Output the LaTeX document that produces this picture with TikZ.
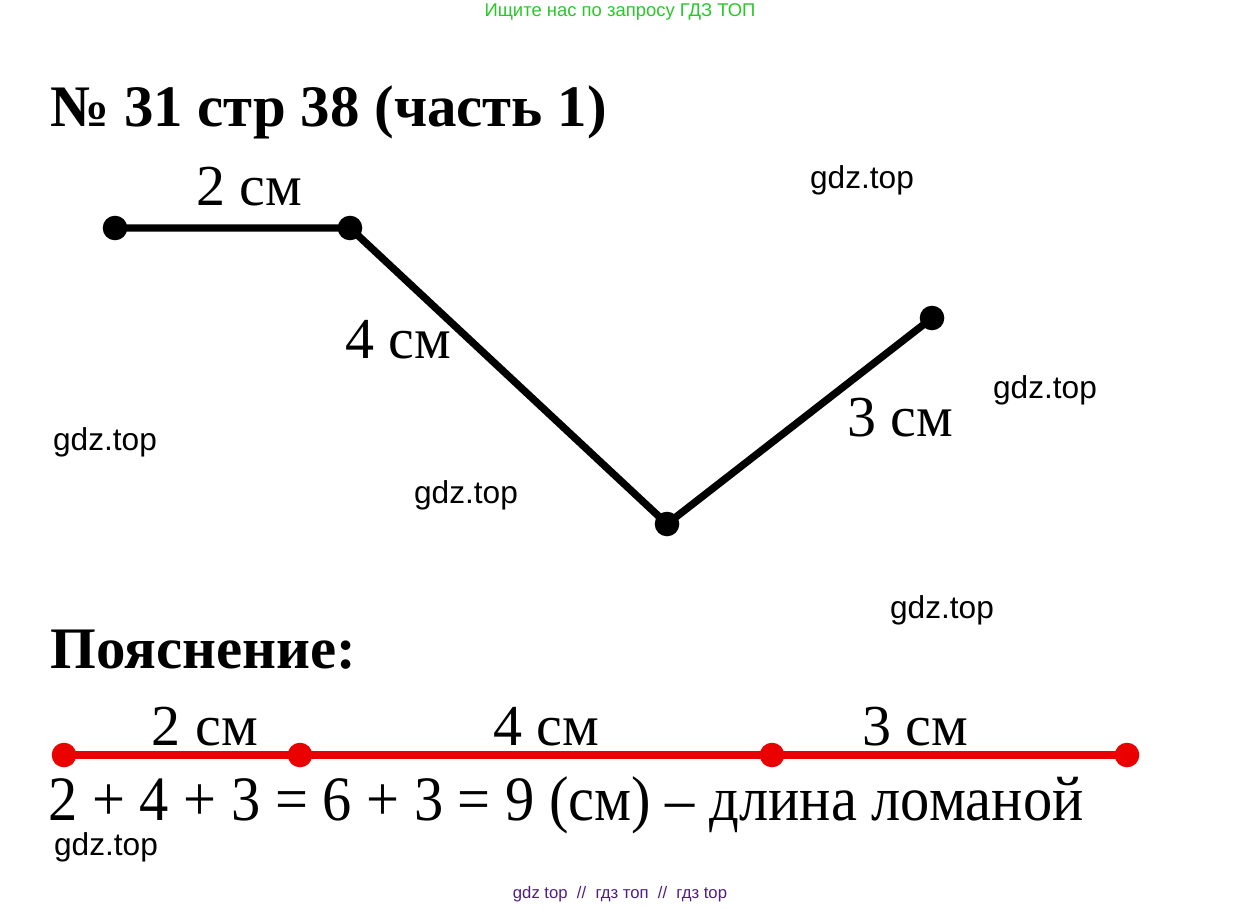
\documentclass[tikz,border=0pt]{standalone}
\usepackage{fontspec}
\setmainfont{Liberation Serif}
\newfontfamily\wmfont{Liberation Sans}
\definecolor{gdzgreen}{RGB}{40,200,40}
\definecolor{gdzpurple}{RGB}{80,30,130}
\definecolor{linered}{RGB}{235,0,0}
\tikzset{
  dot/.style={fill,circle,inner sep=0pt,minimum size=14pt},
  reddot/.style={fill=linered,circle,inner sep=0pt,minimum size=14pt},
  seglabel/.style={font=\fontsize{33}{33}\selectfont,inner sep=0pt,anchor=base},
  wm/.style={font=\wmfont\fontsize{18}{18}\selectfont,inner sep=0pt},
  heading/.style={font=\bfseries\fontsize{33.5}{33.5}\selectfont,inner sep=0pt,anchor=base west}
}
\begin{document}
\begin{tikzpicture}[x=0.02cm,y=-0.02cm]
	\useasboundingbox (0,0) rectangle (1241,909);
	% watermark lines
	\node[font=\wmfont\fontsize{10.5}{10.5}\selectfont,text=gdzgreen,inner sep=0pt] (top) at (620,12) {Ищите нас по запросу ГДЗ ТОП};
	\node[font=\wmfont\fontsize{9.5}{9.5}\selectfont,text=gdzpurple,inner sep=0pt] (bottom) at (620,894) {gdz top \ // \ гдз топ \ // \ гдз top};
	% title
	\node[heading] (title) at (50,127) {№ 31 стр 38 (часть 1)};
	% broken line
		\coordinate (a) at (115,228);
		\coordinate (b) at (350,228);
		\coordinate (c) at (667,524);
		\coordinate (d) at (932,318);
		\draw[line width=4.2pt,line join=round] (a) -- (b) -- (c) -- (d);
		\draw (a) node[dot]{};
		\draw (b) node[dot]{};
		\draw (c) node[dot]{};
		\draw (d) node[dot]{};
	\node[seglabel] (ab) at (249,205) {2 см};
	\node[seglabel] (bc) at (398,358) {4 см};
	\node[seglabel] (cd) at (900,436) {3 см};
	% watermarks
	\node[wm] (w1) at (862,180) {gdz.top};
	\node[wm] (w2) at (1045,390) {gdz.top};
	\node[wm] (w3) at (105,442) {gdz.top};
	\node[wm] (w4) at (466,495) {gdz.top};
	\node[wm] (w5) at (942,610) {gdz.top};
	\node[wm] (w6) at (106,847) {gdz.top};
	% explanation
	\node[heading] (expl) at (50,668) {Пояснение:};
		\coordinate (p) at (64,755);
		\coordinate (q) at (300,755);
		\coordinate (r) at (772,755);
		\coordinate (s) at (1127,755);
		\draw[linered,line width=4.5pt] (p) -- (q) -- (r) -- (s);
		\draw (p) node[reddot]{};
		\draw (q) node[reddot]{};
		\draw (r) node[reddot]{};
		\draw (s) node[reddot]{};
	\node[seglabel] (pq) at (205,745) {\resizebox{106\dimexpr0.02cm\relax}{\height}{2 см}};
	\node[seglabel] (qr) at (546,745) {\resizebox{106\dimexpr0.02cm\relax}{\height}{4 см}};
	\node[seglabel] (rs) at (915,745) {\resizebox{106\dimexpr0.02cm\relax}{\height}{3 см}};
	\node[font=\fontsize{36}{36}\selectfont,inner sep=0pt,anchor=base west] (sum) at (48,820)
		{\resizebox{1035\dimexpr0.02cm\relax}{\height}{2 + 4 + 3 = 6 + 3 = 9 (см) – длина ломаной}};
\end{tikzpicture}
\end{document}
